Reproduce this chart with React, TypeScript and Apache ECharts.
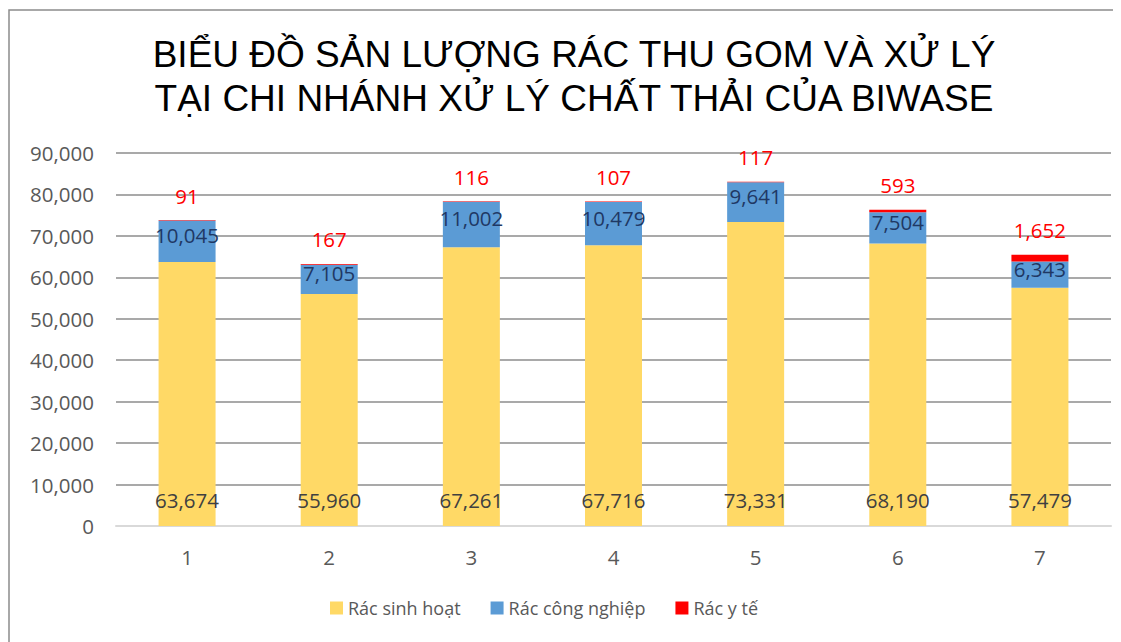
import React, { useEffect, useRef } from "react";
import * as echarts from "echarts";

const titleLines = [
  "BIỂU ĐỒ SẢN LƯỢNG RÁC THU GOM VÀ XỬ LÝ",
  "TẠI CHI NHÁNH XỬ LÝ CHẤT THẢI CỦA BIWASE",
];
const categories = ["1", "2", "3", "4", "5", "6", "7"];
const seriesNames = ["Rác sinh hoạt", "Rác công nghiệp", "Rác y tế"];
const sinhHoat = [63674, 55960, 67261, 67716, 73331, 68190, 57479];
const congNghiep = [10045, 7105, 11002, 10479, 9641, 7504, 6343];
const yTe = [91, 167, 116, 107, 117, 593, 1652];
const yMin = 0;
const yMax = 90000;
const yInterval = 10000;

const fmt = (v: number) => v.toLocaleString("en-US");
const FONT = "'Open Sans', sans-serif";
const NUM_SIZE = 20.5;

export default function App() {
  const ref = useRef<HTMLDivElement>(null);
  useEffect(() => {
    document.body.style.overflow = "hidden";
    const chart = echarts.init(ref.current!, null, { renderer: "svg" });
    chart.setOption({
      animation: false,
      backgroundColor: "#ffffff",
      graphic: [
        {
          type: "rect",
          shape: { x: 1, y: 2, width: 1300, height: 800 },
          style: { fill: "none", stroke: "#8c8c8c", lineWidth: 1.5 },
          silent: true,
        },
        {
          type: "text",
          x: 566,
          y: 24,
          style: {
            text: titleLines.join("\n"),
            font: "37px 'Liberation Sans', Arial, sans-serif",
            fill: "#000000",
            textAlign: "center",
            textVerticalAlign: "top",
            lineHeight: 44,
          },
        },
      ],
      legend: {
        data: seriesNames,
        left: 317,
        top: 586,
        itemWidth: 13,
        itemHeight: 13,
        itemGap: 30,
        icon: "rect",
        textStyle: { fontFamily: FONT, fontSize: 18, color: "#595959" },
      },
      grid: { left: 108, right: 10, top: 145, bottom: 116 },
      xAxis: {
        type: "category",
        data: categories,
        axisLine: { lineStyle: { color: "#d9d9d9", width: 2 } },
        axisTick: { show: false },
        axisLabel: { fontFamily: FONT, fontSize: NUM_SIZE, color: "#595959", margin: 20 },
      },
      yAxis: {
        type: "value",
        min: yMin,
        max: yMax,
        interval: yInterval,
        axisLine: { show: false },
        axisTick: { show: false },
        splitLine: { lineStyle: { color: "#8c8c8c", width: 1.5 } },
        axisLabel: {
          fontFamily: FONT,
          fontSize: NUM_SIZE,
          color: "#595959",
          margin: 22,
          formatter: (v: number) => fmt(v),
        },
      },
      series: [
        {
          name: seriesNames[0],
          type: "bar",
          stack: "total",
          barWidth: 57,
          data: sinhHoat,
          itemStyle: { color: "#FFD966" },
          label: {
            show: true,
            position: "insideBottom",
            distance: 16,
            fontFamily: FONT,
            fontSize: NUM_SIZE,
            color: "#404040",
            formatter: (p: any) => fmt(p.value),
          },
        },
        {
          name: seriesNames[1],
          type: "bar",
          stack: "total",
          barWidth: 57,
          data: congNghiep,
          itemStyle: { color: "#5B9BD5" },
          label: {
            show: true,
            position: "inside",
            offset: [0, -6],
            fontFamily: FONT,
            fontSize: NUM_SIZE,
            color: "#1F3864",
            formatter: (p: any) => fmt(p.value),
          },
        },
        {
          name: seriesNames[2],
          type: "bar",
          stack: "total",
          barWidth: 57,
          data: yTe,
          itemStyle: { color: "#FF0000" },
          label: {
            show: true,
            position: "top",
            distance: 14,
            fontFamily: FONT,
            fontSize: NUM_SIZE,
            color: "#FF0000",
            formatter: (p: any) => fmt(p.value),
          },
        },
      ],
    });
    return () => chart.dispose();
  }, []);
  return <div ref={ref} style={{ width: 1113, height: 634 }} />;
}
